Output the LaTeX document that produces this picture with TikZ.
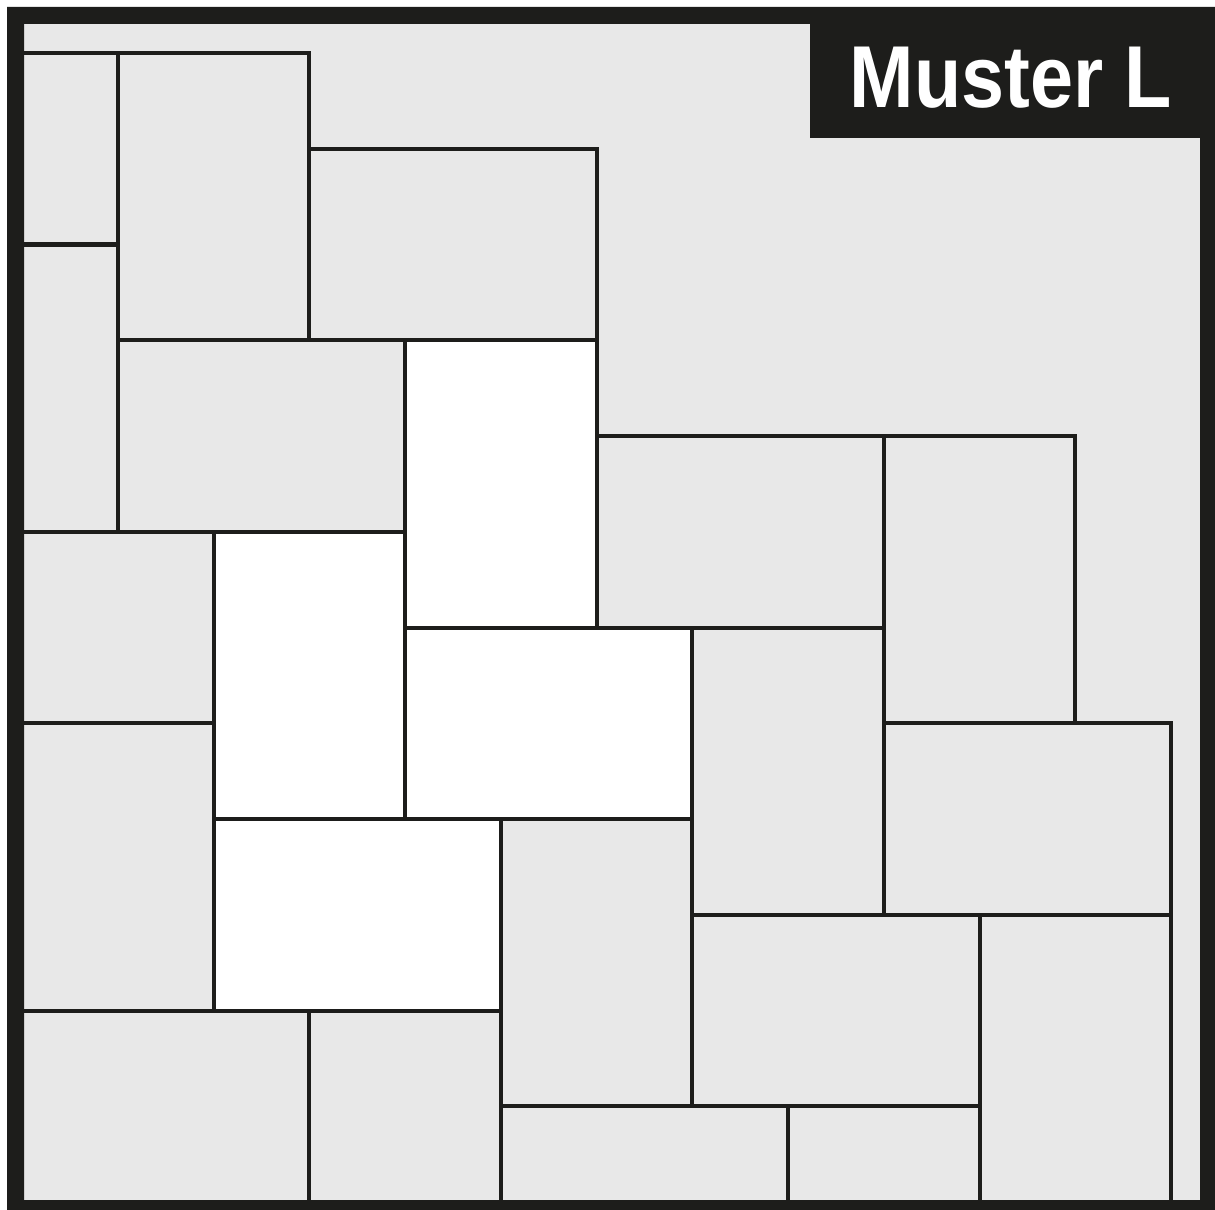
\documentclass[tikz,border=0pt]{standalone}
\usepackage{fontspec}
\setmainfont{Liberation Sans}
\definecolor{paving}{HTML}{E8E8E8}
\definecolor{rim}{HTML}{1D1D1B}
\tikzset{
  tile/.style={draw=rim, line width=0.04cm, fill=paving},
  hilite/.style={tile, fill=white}
}
\begin{document}
\begin{tikzpicture}[x=0.01cm, y=-0.01cm]
  \useasboundingbox (0,0) rectangle (1215,1210);
  \fill[paving] (24,24) rectangle (1200,1200);
  \begin{scope}[shift={(22,53)}, x=0.957cm, y=-0.957cm]
    % grey slabs
    \foreach \a/\b/\c/\d in {0/0/1/2, 0/2/1/5, 1/0/3/3, 3/1/6/3, 1/3/4/5,
        6/4/9/6, 9/4/11/7, 0/5/2/7, 7/6/9/9, 9/7/12/9, 0/7/2/10,
        5/8/7/11, 7/9/10/11, 10/9/12/12, 0/10/3/12, 3/10/5/12,
        5/11/8/12, 8/11/10/12}
      \draw[tile] (\a,\b) rectangle (\c,\d);
    % the L shape
    \foreach \a/\b/\c/\d in {4/3/6/6, 2/5/4/8, 4/6/7/8, 2/8/5/10}
      \draw[hilite] (\a,\b) rectangle (\c,\d);
  \end{scope}
  \fill[rim, even odd rule] (7,7) rectangle (1215,1210) (24,24) rectangle (1200,1200);
  \fill[rim] (810,24) rectangle (1200,138);
  \node[anchor=base, text=white, inner sep=0pt] (title) at (1011,108)
    {\scalebox{0.88}[1]{\fontsize{25}{25}\selectfont\bfseries Muster L}};
\end{tikzpicture}
\end{document}
